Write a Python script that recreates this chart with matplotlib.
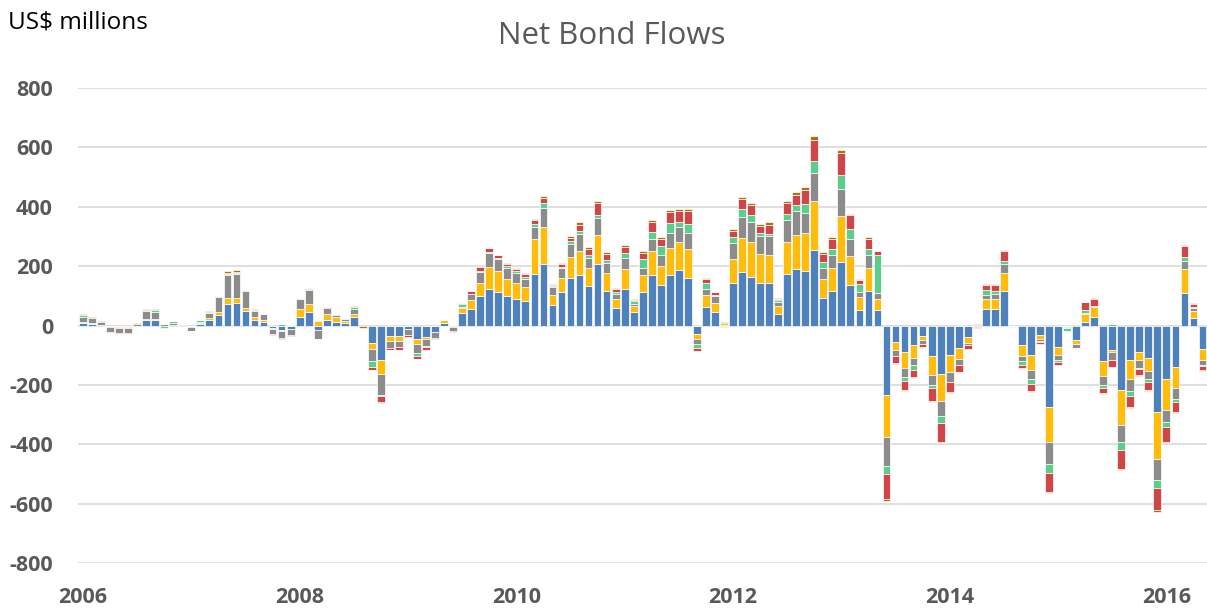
import numpy as np
import matplotlib
matplotlib.use("Agg")
import matplotlib.pyplot as plt

plt.rcParams["axes.unicode_minus"] = False

years = ["2006", "2008", "2010", "2012", "2014", "2016"]

blue = [8, 6, 2, -3, -5, -4, 0, 18, 18, 0, 2, 0, -5, 4, 17, 37, 71, 75, 48, 20, 13, -10, -15, -13,
        29, 46, -16, 20, 11, 7, 27, 0, -60, -116, -36, -36, -13, -44, -38, -21, 10, -4, 41, 57, 101, 124, 114, 99,
        90, 81, 174, 207, 69, 112, 161, 169, 133, 208, 115, 60, 124, 47, 114, 171, 137, 171, 188, 161, -27, 63, 46, 3,
        144, 181, 164, 143, 144, 39, 174, 192, 183, 253, 93, 115, 214, 138, 53, 117, 51, -235, -56, -90, -66, -34, -103, -162,
        -100, -75, -40, 0, 55, 57, 116, 0, -67, -100, -33, -274, -74, 0, -49, 11, 28, -120, -81, -216, -117, -90, -109, -292,
        -181, -140, 108, 26, -80]
orange = [5, 3, 0, -2, -3, -4, 0, 4, 4, 0, 0, 0, 0, 3, 7, 8, 20, 18, 12, 7, 7, -2, -2, 0,
          25, 26, 16, 20, 16, 9, 11, 0, -20, -47, -17, -17, 0, -18, -6, 0, 8, 3, 17, 28, 42, 73, 69, 58,
          53, 49, 117, 124, 34, 49, 71, 83, 61, 98, 63, 30, 67, 20, 55, 81, 65, 91, 92, 98, -18, 39, 29, 6,
          81, 115, 116, 99, 94, 27, 106, 112, 129, 167, 64, 80, 156, 96, 42, 78, 37, -142, -27, -52, -42, -16, -63, -91,
          -56, -37, -18, 1, 33, 33, 60, 0, -35, -51, -13, -120, -26, -4, -13, 27, 33, -51, -8, -120, -64, -27, -43, -156,
          -102, -71, 84, 24, -35]
gray = [17, 17, 11, -17, -17, -18, 5, 26, 25, 6, 8, 3, -12, 6, 18, 50, 78, 82, 55, 21, 19, -17, -25, -20,
        34, 49, -28, 18, 9, 6, 18, -3, -39, -70, -22, -21, -19, -32, -26, -20, 0, -15, 3, 22, 38, 48, 42, 37,
        33, 27, 42, 66, 28, 33, 42, 55, 35, 57, 31, 16, 37, 7, 26, 40, 34, 51, 51, 52, -16, 21, 25, 0,
        52, 71, 70, 58, 62, 13, 76, 82, 67, 94, 38, 43, 89, 56, 19, 42, 20, -96, -19, -33, -26, -11, -35, -53,
        -34, -21, -9, -4, 15, 16, 31, -3, -18, -29, -7, -71, -17, -6, -13, 3, 4, -30, -28, -58, -39, -27, -29, -71,
        -43, -37, 26, 10, -19]
green = [4, 3, 0, 0, 0, 0, 0, 3, 4, -8, 5, 3, 0, 5, 3, 3, 3, 3, 3, 3, 0, 0, 4, 2,
         3, 3, 3, 1, 3, 4, 5, 0, -21, -6, 0, 0, 0, -8, -4, 0, -3, 0, 12, 0, 4, 3, 3, 5,
         7, 7, 9, 15, 3, 4, 11, 10, 8, 10, 13, 8, 15, 9, 29, 24, 31, 33, 18, 30, -15, 19, 2, -5,
         20, 26, 22, 10, 9, 6, 20, 20, 31, 39, 19, 20, 48, 34, 26, 21, 129, -28, -2, -13, -15, -1, -8, -22,
         -1, 3, 0, 0, 16, 10, 9, -2, -12, -16, -2, -31, -6, -8, 0, 10, 2, -9, 5, -26, -18, -4, -9, -28,
         -16, -11, 13, 2, -3]
red = [2, 2, 0, 0, -2, -2, 0, 2, 2, 0, 0, 0, 0, 0, 2, 2, 4, 3, 2, 2, 1, -2, -2, -2,
       1, 1, -3, 3, 1, 0, 3, 0, -9, -17, -8, -9, -6, -11, -7, -3, 2, -4, 2, 9, 11, 12, 8, 7,
       7, 10, 12, 16, 4, 9, 11, 22, 20, 38, 18, 8, 22, 4, 20, 31, 24, 35, 37, 44, -9, 15, 10, 0,
       22, 33, 33, 24, 31, 4, 35, 35, 47, 73, 28, 34, 73, 48, 13, 33, 13, -83, -22, -30, -25, -11, -46, -63,
       -34, -22, -13, -5, 19, 21, 34, 0, -11, -24, -8, -66, -9, 0, 2, 28, 22, -19, -22, -64, -38, -20, -26, -73,
       -49, -33, 37, 12, -13]
brown = [2, 0, 2, 0, -1, -2, 2, 1, 1, 0, 0, 0, -1, 0, 1, 1, 6, 5, 1, 1, 0, 0, 0, 0,
         0, 0, 0, 2, 0, 0, 1, -4, -1, -4, -1, -1, 0, -1, 0, 0, 0, 0, 0, 1, 3, 2, 3, 3,
         4, 3, 6, 8, 2, 2, 6, 9, 9, 9, 7, 4, 7, 2, 7, 9, 8, 8, 7, 8, 0, 3, 2, 2,
         7, 8, 8, 8, 8, 3, 8, 9, 8, 11, 6, 7, 11, 4, 3, 7, 1, -6, -2, -2, -3, -3, -3, -4,
         -3, -3, 0, 3, 3, 2, 3, 0, -2, -3, 0, -3, 0, 0, -2, 1, 2, -3, 0, -4, -2, -2, -3, -7,
         -4, -2, 3, 2, -2]

series = [blue, orange, gray, green, red, brown]
colors = ["#4F81BD", "#FFBC0A", "#8C8C8C", "#5CCE8C", "#CF4649", "#A5740F"]

fig = plt.figure(figsize=(12.07, 6.14), dpi=100)
ax = fig.add_axes([78 / 1207, (614 - 563) / 614, 1 - 78 / 1207, (563 - 88) / 614])

n = len(blue)
x = np.arange(n)
pos = np.zeros(n)
neg = np.zeros(n)
for vals, c in zip(series, colors):
    v = np.array(vals, dtype=float)
    bottom = np.where(v >= 0, pos, neg)
    ax.bar(x, v, bottom=bottom, width=0.86, color=c, edgecolor="white", linewidth=0.5, zorder=3)
    pos = pos + np.where(v >= 0, v, 0)
    neg = neg + np.where(v < 0, v, 0)

ax.set_xlim(-0.55, 124.5)
ax.set_ylim(-800, 800)
ax.set_yticks(np.arange(-800, 801, 200))
ax.set_xticks(np.arange(0, n, 24))
ax.set_xticklabels(years)
ax.grid(axis="y", color="#D9D9D9", linewidth=1.2, zorder=0)
ax.set_axisbelow(True)
for s in ax.spines.values():
    s.set_visible(False)

ax.tick_params(axis="both", length=0, colors="#595959")
ax.tick_params(axis="y", pad=18)
ax.tick_params(axis="x", pad=17)
for lab in ax.get_yticklabels() + ax.get_xticklabels():
    lab.set_fontfamily("Open Sans")
    lab.set_fontweight("bold")
    lab.set_fontsize(15.5)
    lab.set_color("#595959")

fig.text(611.5 / 1207, 1 - 36 / 614, "Net Bond Flows", ha="center", va="center",
         fontsize=22.5, family="Open Sans", color="#595959")
fig.text(8 / 1207, 1 - 22 / 614, "US$ millions", ha="left", va="center",
         fontsize=17.5, family="Open Sans", color="black")

fig.savefig("out.png", dpi=100)
